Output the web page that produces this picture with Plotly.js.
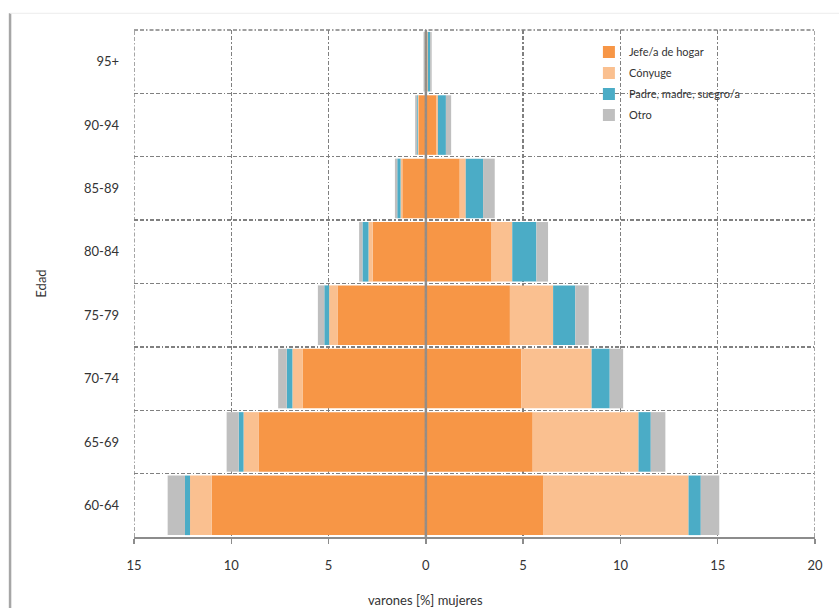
<!DOCTYPE html>
<html>
<head>
<meta charset="utf-8">
<script src="https://cdn.plot.ly/plotly-3.0.1.min.js"></script>
<style>html,body{margin:0;padding:0;background:#fff;}#chart{width:839px;height:608px;}</style>
</head>
<body>
<div id="chart"></div>
<script>
// Age groups (bottom to top)
const ageGroups = ["60-64", "65-69", "70-74", "75-79", "80-84", "85-89", "90-94", "95+"];

// Men (varones) – percent, plotted to the left
const menJefe   = [11.0, 8.58, 6.32, 4.52, 2.73, 1.21, 0.38, 0.05];
const menConyuge= [1.12, 0.79, 0.54, 0.45, 0.22, 0.09, 0.03, 0.01];
const menPadre  = [0.26, 0.25, 0.29, 0.25, 0.31, 0.17, 0.04, 0.01];
const menOtro   = [0.89, 0.62, 0.44, 0.33, 0.17, 0.12, 0.10, 0.05];

// Women (mujeres) – percent, plotted to the right
const womenJefe    = [6.05, 5.49, 4.90, 4.32, 3.38, 1.74, 0.55, 0.08];
const womenConyuge = [7.45, 5.44, 3.62, 2.22, 1.06, 0.31, 0.07, 0.02];
const womenPadre   = [0.63, 0.63, 0.93, 1.14, 1.24, 0.89, 0.41, 0.12];
const womenOtro    = [0.95, 0.75, 0.69, 0.69, 0.60, 0.60, 0.27, 0.08];

const seriesNames = ["Jefe/a de hogar", "Cónyuge", "Padre, madre, suegro/a", "Otro"];
const seriesColors = ["#F79646", "#FAC090", "#4BACC6", "#BFBFBF"];

const xTickVals = [-15, -10, -5, 0, 5, 10, 15, 20];
const xTickText = ["15", "10", "5", "0", "5", "10", "15", "20"];

const menSeries = [menJefe, menConyuge, menPadre, menOtro];
const womenSeries = [womenJefe, womenConyuge, womenPadre, womenOtro];

const traces = [];
for (let i = 0; i < 4; i++) {
  traces.push({
    type: "bar", orientation: "h",
    y: ageGroups, x: menSeries[i].map(v => -v),
    name: seriesNames[i], legendgroup: "g" + i, showlegend: false,
    marker: {color: seriesColors[i], line: {width: 0}},
    hoverinfo: "skip"
  });
}
for (let i = 0; i < 4; i++) {
  traces.push({
    type: "bar", orientation: "h",
    y: ageGroups, x: womenSeries[i],
    name: seriesNames[i], legendgroup: "g" + i, showlegend: true,
    marker: {color: seriesColors[i], line: {width: 0}},
    hoverinfo: "skip"
  });
}

const gridDash = "4px,2px,4px,2px,1.5px,2px";
const gridColor = "#808080";
const fontFam = "Lato, 'Open Sans', sans-serif";

const layout = {
  width: 839, height: 608,
  margin: {l: 134, r: 24, t: 30, b: 71},
  paper_bgcolor: "#fff", plot_bgcolor: "#fff",
  barmode: "relative", bargap: 0.06,
  font: {family: fontFam, size: 13, color: "#333"},
  showlegend: true,
  legend: {
    x: 0.668, y: 0.985, xanchor: "left", yanchor: "top",
    font: {family: fontFam, size: 11, color: "#333"},
    bgcolor: "rgba(0,0,0,0)", traceorder: "grouped",
    itemwidth: 30, tracegroupgap: 2
  },
  xaxis: {
    range: [-15, 20], tickmode: "array", tickvals: xTickVals, ticktext: xTickText,
    showgrid: true, gridcolor: gridColor, gridwidth: 1.4, griddash: gridDash,
    zeroline: false, showline: true, linecolor: "#8c8c8c", linewidth: 1.5,
    ticks: "outside", ticklen: 5, tickcolor: "#8c8c8c", tickwidth: 1.5,
    ticklabelstandoff: 11,
    tickfont: {family: fontFam, size: 13, color: "#333"},
    fixedrange: true
  },
  yaxis: {
    type: "category", categoryorder: "array", categoryarray: ageGroups,
    tickson: "boundaries", showgrid: true, gridcolor: gridColor, gridwidth: 1.4, griddash: gridDash,
    zeroline: false, showline: false, ticks: "",
    ticklabelstandoff: 14,
    tickfont: {family: fontFam, size: 13, color: "#333"},
    title: {text: "Edad", font: {family: fontFam, size: 13, color: "#333"}, standoff: 34},
    automargin: false, fixedrange: true
  },
  shapes: [
    {type: "line", xref: "x", yref: "paper", x0: 0, x1: 0, y0: 0, y1: 1,
     line: {color: "rgba(140,140,140,0.9)", width: 2.5}, layer: "above"},
    {type: "line", xref: "x", yref: "paper", x0: -15, x1: -15, y0: 0, y1: 1,
     line: {color: gridColor, width: 1.4, dash: gridDash}, layer: "below"},
    {type: "line", xref: "x", yref: "paper", x0: 20, x1: 20, y0: 0, y1: 1,
     line: {color: gridColor, width: 1.4, dash: gridDash}, layer: "below"},
    {type: "line", xref: "x", yref: "paper", x0: -15, x1: 20, y0: 1, y1: 1,
     line: {color: gridColor, width: 1.4, dash: gridDash}, layer: "below"},
    {type: "line", xref: "paper", yref: "paper", x0: -0.182, x1: -0.182, y0: -0.2, y1: 1.033,
     line: {color: "#a6a6a6", width: 2.5}, layer: "below"},
    {type: "line", xref: "paper", yref: "paper", x0: -0.182, x1: 1.1, y0: 1.033, y1: 1.033,
     line: {color: "#ececec", width: 1}, layer: "below"}
  ],
  annotations: [
    {text: "varones [%] mujeres", xref: "x", yref: "paper", x: 0, y: -0.125,
     xanchor: "center", yanchor: "middle", showarrow: false,
     font: {family: fontFam, size: 13, color: "#333"}}
  ]
};

Plotly.newPlot("chart", traces, layout, {staticPlot: true, displayModeBar: false});
</script>
</body>
</html>
